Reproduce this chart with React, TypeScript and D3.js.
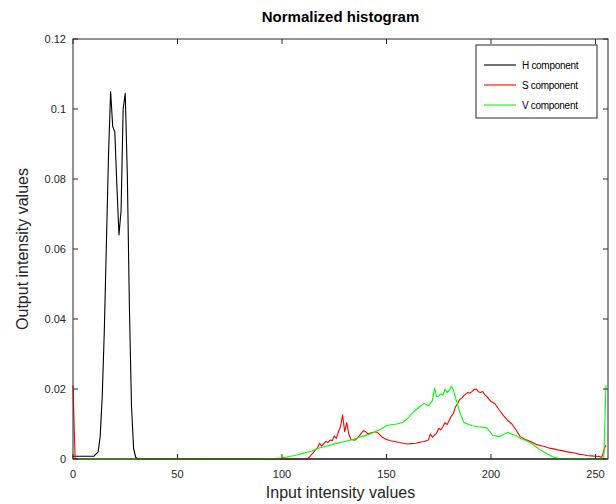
import React from "react";
import * as d3 from "d3";

// values (bin -> normalized count)
const hBins = [0, 5, 10, 12, 13, 14, 15, 16, 17, 18, 19, 20, 21, 22, 23, 24, 25, 26, 27, 28, 29, 30, 31, 40, 255];
const hValues = [0.0008, 0.0008, 0.0008, 0.002, 0.0064, 0.018, 0.037, 0.062, 0.087, 0.105, 0.095, 0.0935, 0.078, 0.064, 0.071, 0.1, 0.1045, 0.081, 0.043, 0.015, 0.003, 0.0005, 0, 0, 0];

const sBins = [0, 1, 2, 112, 113, 115, 116, 117, 118, 119, 120, 121, 122, 123, 124, 125, 126, 127, 128, 129, 130, 131, 132, 133, 135, 137, 139, 140, 141, 143, 145, 146, 147, 148, 150, 152, 154, 156, 158, 160, 162, 164, 166, 168, 170, 171, 172, 173, 174, 175, 176, 177, 178, 179, 180, 181, 182, 183, 184, 185, 186, 187, 188, 189, 190, 191, 192, 193, 194, 195, 196, 197, 198, 199, 200, 202, 204, 206, 208, 210, 212, 214, 216, 218, 220, 222, 224, 226, 228, 230, 232, 234, 236, 238, 240, 242, 244, 246, 248, 250, 252, 253, 254, 255];
const sValues = [0.021, 0.0002, 0, 0, 0.0005, 0.0018, 0.0026, 0.0032, 0.0045, 0.0037, 0.0044, 0.005, 0.0047, 0.0054, 0.0052, 0.0066, 0.0059, 0.0078, 0.0092, 0.0126, 0.0078, 0.0104, 0.007, 0.0056, 0.0054, 0.0066, 0.0081, 0.0078, 0.0072, 0.0075, 0.0078, 0.0074, 0.0068, 0.0062, 0.0056, 0.0052, 0.005, 0.0047, 0.0045, 0.0043, 0.0044, 0.0045, 0.0048, 0.005, 0.0054, 0.0071, 0.0062, 0.0068, 0.0074, 0.0088, 0.0083, 0.0092, 0.0104, 0.0098, 0.011, 0.0122, 0.013, 0.0149, 0.0158, 0.017, 0.0174, 0.0181, 0.0186, 0.019, 0.0188, 0.0193, 0.0199, 0.02, 0.0192, 0.019, 0.0193, 0.0184, 0.0178, 0.0171, 0.0165, 0.0157, 0.014, 0.0124, 0.011, 0.01, 0.0083, 0.0064, 0.0057, 0.0052, 0.0047, 0.0041, 0.0038, 0.0035, 0.0031, 0.0029, 0.0026, 0.0024, 0.0021, 0.0019, 0.0017, 0.0014, 0.0012, 0.001, 0.0009, 0.0008, 0.0007, 0.0004, 0.0024, 0.004];

const vBins = [0, 90, 100, 106, 110, 114, 117, 120, 124, 127, 130, 134, 138, 142, 145, 148, 150, 152, 155, 158, 160, 162, 164, 166, 168, 170, 172, 173, 174, 175, 176, 177, 178, 179, 180, 181, 182, 183, 184, 185, 186, 187, 189, 191, 194, 198, 201, 204, 206, 208, 210, 212, 214, 217, 220, 222, 224, 227, 230, 233, 236, 254, 255];
const vValues = [0, 0, 0.0003, 0.001, 0.0016, 0.0022, 0.003, 0.0035, 0.0041, 0.0046, 0.005, 0.0056, 0.0064, 0.0071, 0.0079, 0.0087, 0.0095, 0.0098, 0.01, 0.0105, 0.0115, 0.0129, 0.014, 0.015, 0.0159, 0.0152, 0.0167, 0.0203, 0.0178, 0.018, 0.0186, 0.0182, 0.02, 0.019, 0.0196, 0.0208, 0.0198, 0.0175, 0.0157, 0.0135, 0.0119, 0.0105, 0.0099, 0.0095, 0.0092, 0.0089, 0.0067, 0.0064, 0.007, 0.0076, 0.0071, 0.0067, 0.0059, 0.0052, 0.0042, 0.0033, 0.0024, 0.0014, 0.0005, 0.0001, 0, 0, 0.021];

const xTicks = [0, 50, 100, 150, 200, 250];
const yTicks = [0, 0.02, 0.04, 0.06, 0.08, 0.1, 0.12];
const yTickLabels = ["0", "0.02", "0.04", "0.06", "0.08", "0.1", "0.12"];
const seriesNames = ["H component", "S component", "V component"];
const seriesColors = ["#000000", "#ff0000", "#00ff00"];

const W = 616;
const H = 504;
const margin = { top: 39, right: 8, bottom: 45, left: 73 };
const font = "'Liberation Sans', Arial, Helvetica, sans-serif";
const axisColor = "#262626";

export default function App() {
  const x = d3.scaleLinear().domain([0, 256]).range([margin.left, W - margin.right]);
  const y = d3.scaleLinear().domain([0, 0.12]).range([H - margin.bottom, margin.top]);

  const line = d3
    .line<[number, number]>()
    .x((d) => x(d[0]))
    .y((d) => y(d[1]));

  const series = [
    hBins.map((b, i) => [b, hValues[i]] as [number, number]),
    sBins.map((b, i) => [b, sValues[i]] as [number, number]),
    vBins.map((b, i) => [b, vValues[i]] as [number, number]),
  ];

  const x0 = x(0);
  const x1 = x(256);
  const y0 = y(0);
  const y1 = y(0.12);
  const tl = 5;

  const lgX = 476;
  const lgY = 45;

  return (
    <svg
      width={W}
      height={H}
      style={{ position: "absolute", left: 0, top: 0, background: "#fff" }}
      fontFamily={font}
    >
      <rect x={0} y={0} width={W} height={H} fill="#fff" />
      <text x={(x0 + x1) / 2} y={22} textAnchor="middle" fontSize={15} fontWeight="bold" fill="#000">
        Normalized histogram
      </text>

      {/* series */}
      {series.map((s, i) => (
        <path key={i} d={line(s) || ""} fill="none" stroke={seriesColors[i]} strokeWidth={1.1} strokeLinejoin="round" />
      ))}

      {/* box */}
      <rect x={x0} y={y1} width={x1 - x0} height={y0 - y1} fill="none" stroke={axisColor} strokeWidth={1} />

      {/* x ticks */}
      {xTicks.map((t) => (
        <g key={"x" + t}>
          <line x1={x(t)} x2={x(t)} y1={y0} y2={y0 - tl} stroke={axisColor} />
          <line x1={x(t)} x2={x(t)} y1={y1} y2={y1 + tl} stroke={axisColor} />
          <text x={x(t)} y={y0 + 19} textAnchor="middle" fontSize={11} fill={axisColor}>
            {t}
          </text>
        </g>
      ))}

      {/* y ticks */}
      {yTicks.map((t, i) => (
        <g key={"y" + t}>
          <line x1={x0} x2={x0 + tl} y1={y(t)} y2={y(t)} stroke={axisColor} />
          <line x1={x1} x2={x1 - tl} y1={y(t)} y2={y(t)} stroke={axisColor} />
          <text x={x0 - 7} y={y(t) + 4} textAnchor="end" fontSize={11} fill={axisColor}>
            {yTickLabels[i]}
          </text>
        </g>
      ))}

      <text x={(x0 + x1) / 2} y={498} textAnchor="middle" fontSize={16} fill={axisColor}>
        Input intensity values
      </text>
      <text
        transform={`translate(28, ${(y0 + y1) / 2}) rotate(-90)`}
        textAnchor="middle"
        fontSize={16}
        fill={axisColor}
      >
        Output intensity values
      </text>

      {/* legend */}
      <rect x={lgX} y={lgY} width={121} height={73} fill="#fff" stroke={axisColor} strokeWidth={1} />
      {seriesNames.map((n, i) => (
        <g key={n}>
          <line x1={lgX + 8} x2={lgX + 40} y1={lgY + 20 + i * 20} y2={lgY + 20 + i * 20} stroke={seriesColors[i]} strokeWidth={1.1} />
          <text x={lgX + 46} y={lgY + 24 + i * 20} fontSize={10} letterSpacing={-0.3} fill="#000">
            {n}
          </text>
        </g>
      ))}
    </svg>
  );
}
